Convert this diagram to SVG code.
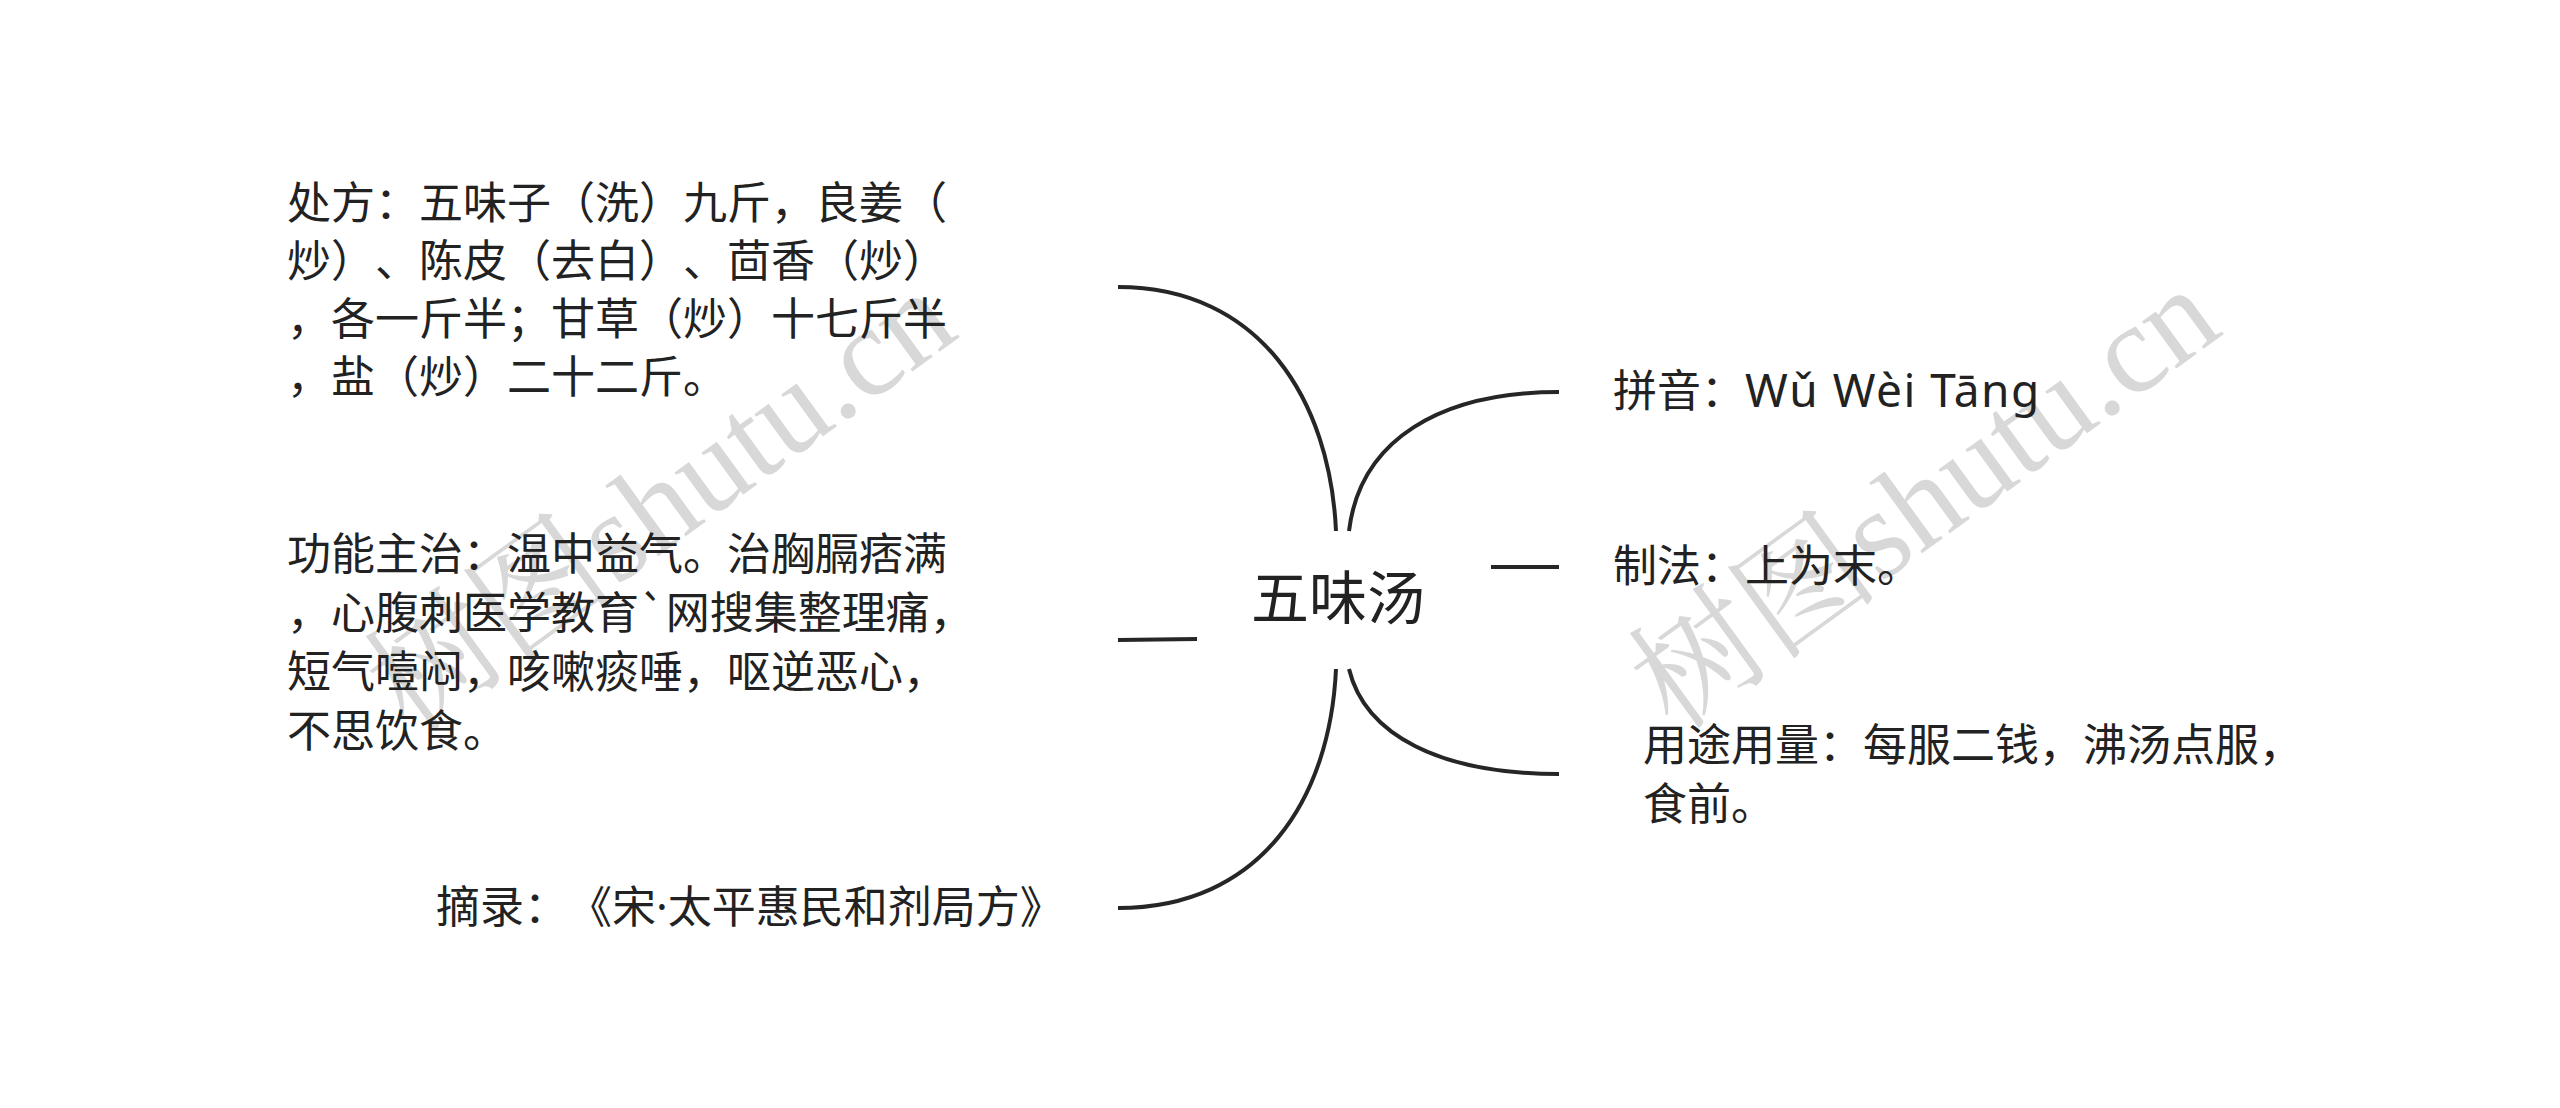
<svg xmlns="http://www.w3.org/2000/svg" width="2560" height="1108" viewBox="0 0 2560 1108">
<style>
text{text-spacing-trim:space-all;font-feature-settings:"chws" 0,"halt" 0,"palt" 0}
.t{font-family:"Noto Sans CJK SC","Noto Sans",sans-serif;font-size:44px;fill:#222}
.c{font-family:"Noto Sans CJK SC","Noto Sans",sans-serif;font-size:58px;fill:#222}
.lat{font-family:"Noto Sans","Noto Sans CJK SC",sans-serif}
.e{fill:none;stroke:#262626;stroke-width:4;stroke-linecap:butt}
.w{font-family:"Liberation Serif","Noto Serif CJK SC","Noto Sans CJK SC",serif;font-size:127px;fill:#d2d2d2;opacity:0.85}
</style>
<rect width="2560" height="1108" fill="#ffffff"/>
<g id="watermark">
<text class="w" transform="translate(686,536) rotate(-36)" text-anchor="middle">树图shutu.cn</text>
<text class="w" transform="translate(1950,533) rotate(-36)" text-anchor="middle">树图shutu.cn</text>
</g>
<g id="connectors">
<path class="e" d="M1118,287 C1260,287 1330,400 1336,531"/>
<path class="e" d="M1118,640 L1197,639"/>
<path class="e" d="M1336,669 C1330,800 1260,908 1118,908"/>
<path class="e" d="M1349,531 C1360,440 1440,392 1559,392"/>
<path class="e" d="M1491,567 L1559,567"/>
<path class="e" d="M1349,669 C1365,735 1440,774 1559,774"/>
</g>
<g id="center"><text class="c" x="1338" y="619" text-anchor="middle">五味汤</text></g>
<g id="node-chufang"><text class="t">
<tspan x="287" y="219">处方：五味子（洗）九斤，良姜（</tspan>
<tspan x="287" y="277">炒）、陈皮（去白）、茴香（炒）</tspan>
<tspan x="287" y="335">，各一斤半；甘草（炒）十七斤半</tspan>
<tspan x="287" y="393">，盐（炒）二十二斤。</tspan>
</text></g>
<g id="node-gongneng"><text class="t">
<tspan x="287" y="570">功能主治：温中益气。治胸膈痞满</tspan>
<tspan x="287" y="629">，心腹刺医学教育`网搜集整理痛，</tspan>
<tspan x="287" y="688">短气噎闷，咳嗽痰唾，呕逆恶心，</tspan>
<tspan x="287" y="747">不思饮食。</tspan>
</text></g>
<g id="node-zhailu"><text class="t" x="436" y="923">摘录：《宋<tspan class="lat">·</tspan>太平惠民和剂局方》</text></g>
<g id="node-pinyin"><text class="t" x="1613" y="407">拼音：<tspan class="lat" style="font-size:46px;letter-spacing:1.5px">Wǔ Wèi Tāng</tspan></text></g>
<g id="node-zhifa"><text class="t" x="1613" y="582">制法：上为末。</text></g>
<g id="node-yongtu"><text class="t">
<tspan x="1643" y="761">用途用量：每服二钱，沸汤点服，</tspan>
<tspan x="1643" y="820">食前。</tspan>
</text></g>
</svg>
